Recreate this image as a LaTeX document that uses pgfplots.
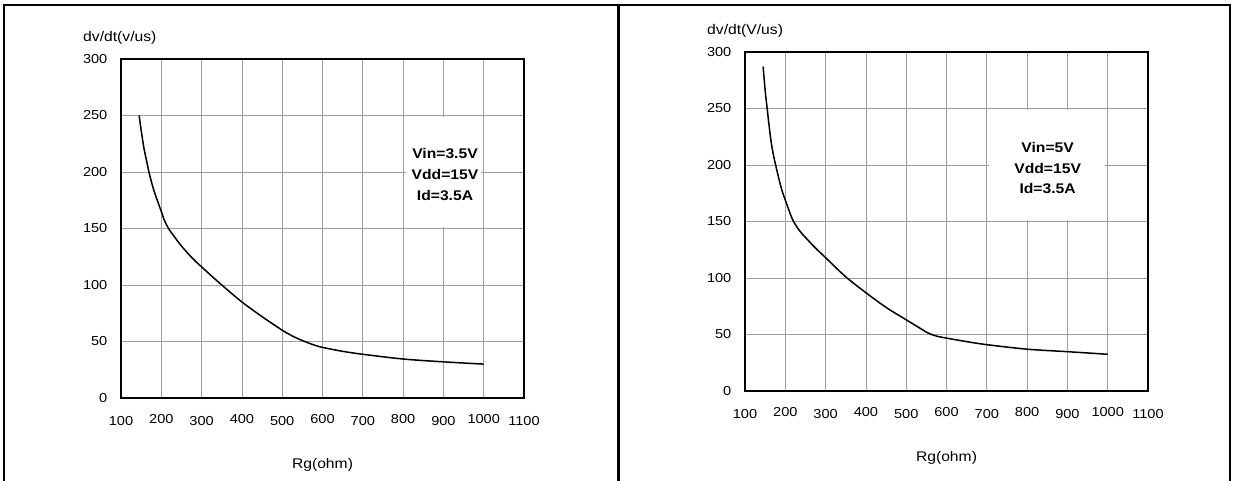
\documentclass[border=0pt]{standalone}
\usepackage{fontspec}
\setmainfont{Liberation Sans}[FakeStretch=1.12]
\usepackage{pgfplots}
\pgfplotsset{compat=1.18}
\pgfplotsset{
  dvdt/.style={
    scale only axis,
    height=339pt,
    xmin=100, xmax=1100, ymin=0, ymax=300,
    xtick={100,200,...,1100},
    xticklabels={100,\raisebox{1.7pt}{200},300,\raisebox{1.7pt}{400},500,\raisebox{1.7pt}{600},700,\raisebox{1.7pt}{800},900,\raisebox{1.7pt}{1000},1100},
    ytick={0,50,...,300},
    yticklabels={0,50,100,150,200,250,300},
    major tick length=0pt,
    grid=major,
    major grid style={color=black!38, line width=0.8pt},
    axis line style={black, line width=1.6pt},
    tick label style={font=\fontsize{13}{15}\selectfont, inner sep=0pt},
    xticklabel style={anchor=base, yshift=-27.5pt},
    yticklabel style={anchor=east, xshift=-13.5pt},
    every axis x label/.style={at={(axis description cs:0.5,0)}, anchor=base, yshift=-70pt, inner sep=0pt, font=\fontsize{14}{16}\selectfont},
    every axis y label/.style={at={(axis description cs:0,1)}, anchor=base west, xshift=-38pt, yshift=17.5pt, inner sep=0pt, font=\fontsize{14}{16}\selectfont},
    xlabel={Rg(ohm)},
  },
  curve/.style={black, line width=1.5pt, smooth, tension=0.5, no marks},
}
\begin{document}
\begin{tikzpicture}
\path[use as bounding box] (0pt,0pt) rectangle (1234pt,480pt);
\draw[line width=2.4pt] (4pt,-5pt) -- (4pt,475pt) -- (1230pt,475pt) -- (1230pt,-5pt);
\draw[line width=2.6pt] (618.5pt,-5pt) -- (618.5pt,475pt);

\begin{axis}[dvdt, at={(121pt,82pt)}, anchor=south west, width=403pt, ylabel={dv/dt(v/us)}]
\addplot[curve] coordinates {
(145,250) (150,237) (157,221) (164,209) (170,199) (178,188) (185,180) (193,172)
(200,165) (208,157) (218,150) (235,141.5) (250,134.5) (275,124.5) (300,116) (350,100)
(400,85) (450,72) (500,60) (530,54) (556,50) (580,46.8) (600,44.8) (650,41.3)
(700,38.7) (800,34.5) (900,32) (1000,30)
};
\fill[white] (axis cs:806,151.5) rectangle (axis cs:994,248.5);
\node[align=center, font=\bfseries\fontsize{14}{21}\selectfont] at (axis cs:904,197.5) {Vin=3.5V\\Vdd=15V\\Id=3.5A};
\end{axis}

\begin{axis}[dvdt, at={(745pt,89pt)}, anchor=south west, width=403pt, ylabel={dv/dt(V/us)}]
\addplot[curve] coordinates {
(145,287) (150,266) (155,250) (160,234) (165,220) (171,208) (178,197) (186,185)
(193,176) (200,169) (210,159) (219,151) (235,142) (255,134) (275,126.5) (300,118)
(350,101) (400,87) (450,74) (500,63) (530,56.5) (555,51.2) (575,48.6) (600,46.8)
(650,43.7) (700,41) (800,37) (900,34.8) (1000,32.5)
};
\fill[white] (axis cs:706,151.5) rectangle (axis cs:994,248.5);
\node[align=center, font=\bfseries\fontsize{14}{20.5}\selectfont] at (axis cs:851,197) {Vin=5V\\Vdd=15V\\Id=3.5A};
\end{axis}
\end{tikzpicture}
\end{document}
